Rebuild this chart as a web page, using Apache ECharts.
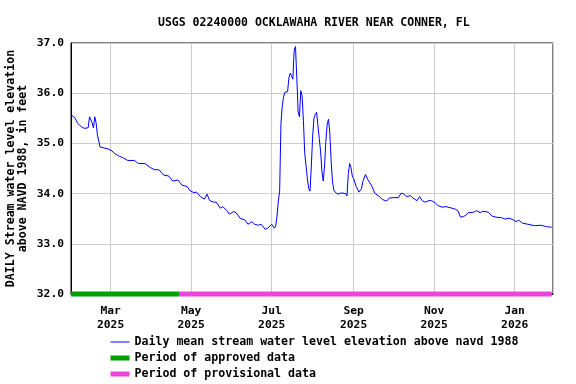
<!DOCTYPE html>
<html>
<head>
<meta charset="utf-8">
<script src="https://cdn.jsdelivr.net/npm/echarts@6/dist/echarts.min.js"></script>
<style>html,body{margin:0;padding:0;background:#fff;}#c{width:576px;height:384px;}</style>
</head>
<body>
<div id="c"></div>
<script>
const titleText = 'USGS 02240000 OCKLAWAHA RIVER NEAR CONNER, FL';
const yAxisName = 'DAILY Stream water level elevation\nabove NAVD 1988, in feet';
const seriesNames = ['Daily mean stream water level elevation above navd 1988', 'Period of approved data', 'Period of provisional data'];
const seriesColors = ['#0000ff', '#00a000', '#ee44dd'];
const seriesWidths = [1, 5, 5];
const axisStart = '2025-01-30';
const axisEnd = '2026-01-30';
const approvedPeriod = ['2025-01-30', '2025-04-22'];
const provisionalPeriod = ['2025-04-22', '2026-01-29'];
const periodLevel = 32;

const dates = [
'2025-01-30','2025-02-02','2025-02-04','2025-02-07','2025-02-09','2025-02-12','2025-02-13','2025-02-14','2025-02-15','2025-02-16',
'2025-02-17','2025-02-18','2025-02-19','2025-02-21','2025-02-22','2025-02-27','2025-03-02','2025-03-04','2025-03-07','2025-03-10',
'2025-03-14','2025-03-15','2025-03-19','2025-03-22','2025-03-27','2025-03-31','2025-04-03','2025-04-07','2025-04-10','2025-04-14',
'2025-04-17','2025-04-21','2025-04-24','2025-04-28','2025-04-30','2025-05-03','2025-05-05','2025-05-08','2025-05-11','2025-05-13',
'2025-05-15','2025-05-18','2025-05-20','2025-05-23','2025-05-25','2025-05-28','2025-05-30','2025-06-02','2025-06-04','2025-06-07',
'2025-06-11','2025-06-13','2025-06-16','2025-06-18','2025-06-21','2025-06-23','2025-06-26','2025-06-28','2025-07-01','2025-07-03',
'2025-07-04','2025-07-05','2025-07-06','2025-07-07','2025-07-08','2025-07-09','2025-07-10','2025-07-11','2025-07-13','2025-07-14',
'2025-07-15','2025-07-16','2025-07-17','2025-07-18','2025-07-19','2025-07-20','2025-07-21','2025-07-22','2025-07-23','2025-07-24',
'2025-07-25','2025-07-26','2025-07-27','2025-07-28','2025-07-29','2025-07-30','2025-07-31','2025-08-01','2025-08-02','2025-08-03',
'2025-08-04','2025-08-05','2025-08-06','2025-08-07','2025-08-08','2025-08-09','2025-08-10','2025-08-11','2025-08-12','2025-08-13',
'2025-08-14','2025-08-15','2025-08-16','2025-08-17','2025-08-18','2025-08-20','2025-08-22','2025-08-24','2025-08-26','2025-08-27',
'2025-08-28','2025-08-29','2025-08-30','2025-08-31','2025-09-01','2025-09-03','2025-09-05','2025-09-06','2025-09-07','2025-09-08',
'2025-09-10','2025-09-12','2025-09-15','2025-09-17','2025-09-20','2025-09-23','2025-09-26','2025-09-28','2025-10-01','2025-10-05',
'2025-10-07','2025-10-09','2025-10-11','2025-10-14','2025-10-16','2025-10-19','2025-10-21','2025-10-23','2025-10-25','2025-10-28',
'2025-10-30','2025-11-02','2025-11-04','2025-11-07','2025-11-10','2025-11-13','2025-11-17','2025-11-19','2025-11-21','2025-11-23',
'2025-11-25','2025-11-27','2025-12-01','2025-12-03','2025-12-06','2025-12-08','2025-12-12','2025-12-15','2025-12-18','2025-12-22',
'2025-12-25','2025-12-27','2025-12-30','2026-01-02','2026-01-04','2026-01-07','2026-01-11','2026-01-16','2026-01-21','2026-01-25',
'2026-01-29'
];
const levels = [
35.57,35.51,35.40,35.33,35.30,35.31,35.53,35.55,35.41,35.31,
35.53,35.41,35.17,34.93,34.90,34.89,34.85,34.80,34.75,34.72,
34.66,34.69,34.66,34.60,34.60,34.52,34.48,34.47,34.37,34.35,
34.25,34.27,34.17,34.14,34.06,34.02,34.03,33.94,33.89,33.99,
33.86,33.83,33.83,33.71,33.74,33.66,33.59,33.64,33.62,33.51,
33.47,33.39,33.44,33.39,33.37,33.39,33.29,33.31,33.39,33.31,
33.35,33.55,33.85,34.05,35.40,35.75,35.93,36.02,36.03,36.30,
36.40,36.35,36.28,36.85,36.93,36.30,35.63,35.53,36.05,35.95,
35.45,34.80,34.55,34.30,34.10,34.05,34.55,35.15,35.50,35.58,
35.62,35.35,35.10,34.85,34.45,34.25,34.55,35.05,35.38,35.48,
35.20,34.65,34.25,34.07,34.03,33.99,34.01,34.01,34.00,33.95,
34.40,34.60,34.52,34.35,34.30,34.14,34.03,34.01,34.10,34.24,
34.38,34.27,34.14,34.01,33.95,33.88,33.85,33.91,33.92,33.92,
34.01,33.99,33.94,33.96,33.91,33.86,33.94,33.86,33.83,33.86,
33.86,33.81,33.76,33.73,33.74,33.72,33.69,33.66,33.53,33.54,
33.57,33.62,33.63,33.66,33.62,33.65,33.63,33.55,33.53,33.52,
33.49,33.51,33.49,33.44,33.47,33.41,33.39,33.36,33.37,33.34,
33.33
];
const yTicks = { min: 32, max: 37, interval: 1 };
const monthNames = ['Jan','Feb','Mar','Apr','May','Jun','Jul','Aug','Sep','Oct','Nov','Dec'];

const FONT = 'DejaVu Sans Mono';
const chart = echarts.init(document.getElementById('c'), null, { renderer: 'canvas' });
const DAY = 86400000;

chart.setOption({
  animation: false,
  backgroundColor: '#ffffff',
  title: {
    text: titleText,
    left: 153,
    top: 12,
    textStyle: { fontFamily: FONT, fontWeight: 'bold', fontSize: 11.5, color: '#000' }
  },
  grid: { left: 71, right: 23, top: 43, bottom: 90, show: true, borderColor: '#000', borderWidth: 1, backgroundColor: '#fff', containLabel: false, outerBoundsMode: 'none' },
  legend: {
    orient: 'vertical',
    left: 108,
    top: 336,
    padding: 0,
    itemWidth: 19,
    itemHeight: 12,
    itemGap: 4,
    height: 60,
    data: seriesNames.map((n, i) => ({
      name: n,
      itemStyle: { opacity: 0 },
      lineStyle: { width: seriesWidths[i], color: seriesColors[i], opacity: 1 }
    })),
    textStyle: { fontFamily: FONT, fontWeight: 'bold', fontSize: 11.6, color: '#000' },
    selectedMode: false
  },
  xAxis: {
    type: 'time',
    min: new Date(axisStart).getTime(),
    max: new Date(axisEnd).getTime(),
    splitNumber: 6,
    minInterval: 61 * DAY,
    maxInterval: 61 * DAY,
    axisLine: { show: true, lineStyle: { color: '#000', width: 1 } },
    axisTick: { show: false },
    splitLine: { show: true, lineStyle: { color: '#cccccc', width: 1 } },
    axisLabel: {
      showMinLabel: false,
      showMaxLabel: false,
      margin: 10,
      lineHeight: 14,
      fontFamily: FONT, fontWeight: 'bold', fontSize: 11.3, color: '#000',
      formatter: function (v) { const d = new Date(v); return monthNames[d.getMonth()] + '\n' + d.getFullYear(); }
    }
  },
  yAxis: {
    type: 'value',
    min: yTicks.min, max: yTicks.max, interval: yTicks.interval,
    name: yAxisName,
    nameLocation: 'middle',
    nameGap: 42,
    nameRotate: 90,
    nameMoveOverlap: false,
    nameTextStyle: { fontFamily: FONT, fontWeight: 'bold', fontSize: 11.6, color: '#000', lineHeight: 12 },
    axisLine: { show: true, lineStyle: { color: '#000', width: 1 } },
    axisTick: { show: false },
    splitLine: { show: true, lineStyle: { color: '#cccccc', width: 1 } },
    axisLabel: {
      margin: 7,
      fontFamily: FONT, fontWeight: 'bold', fontSize: 11.3, color: '#000',
      formatter: v => v.toFixed(1)
    }
  },
  series: [
    {
      name: seriesNames[0], type: 'line', showSymbol: false, symbol: 'none',
      lineStyle: { color: seriesColors[0], width: seriesWidths[0] }, itemStyle: { color: seriesColors[0] },
      data: dates.map((d, i) => [d, levels[i]]),
      z: 3
    },
    {
      name: seriesNames[1], type: 'line', showSymbol: false, symbol: 'none', clip: false,
      lineStyle: { color: seriesColors[1], width: seriesWidths[1] }, itemStyle: { color: seriesColors[1] },
      data: approvedPeriod.map(d => [d, periodLevel]),
      z: 4
    },
    {
      name: seriesNames[2], type: 'line', showSymbol: false, symbol: 'none', clip: false,
      lineStyle: { color: seriesColors[2], width: seriesWidths[2] }, itemStyle: { color: seriesColors[2] },
      data: provisionalPeriod.map(d => [d, periodLevel]),
      z: 4
    }
  ]
});
</script>
</body>
</html>
